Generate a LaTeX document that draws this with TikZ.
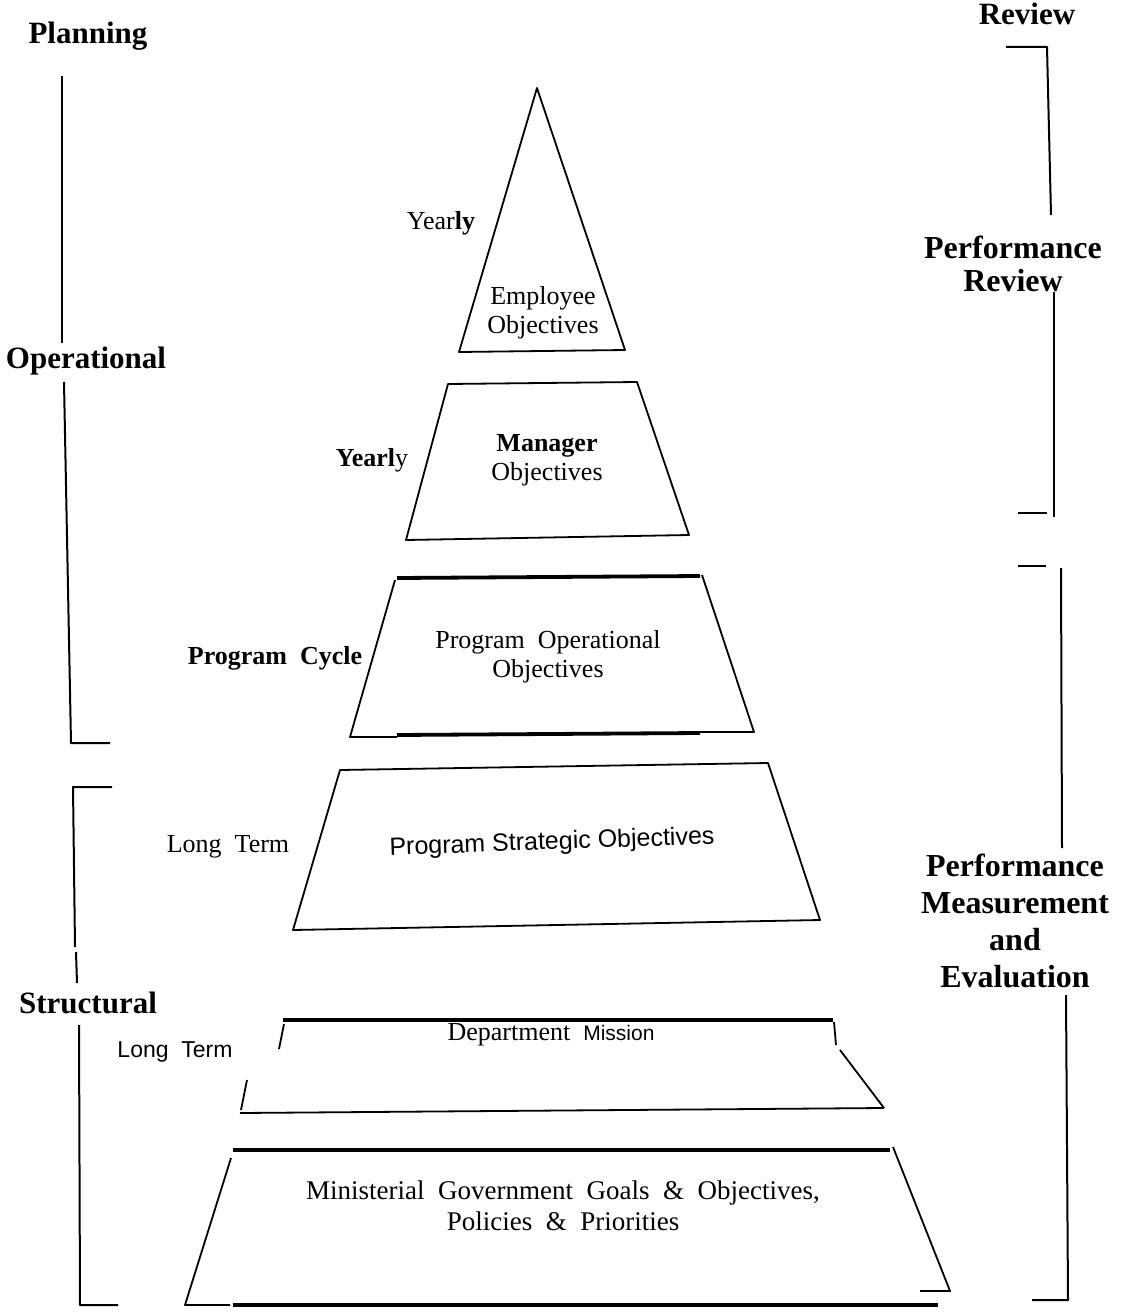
\documentclass[tikz,border=0pt]{standalone}
\usepackage{fontspec}
\setmainfont{Liberation Serif}
\setsansfont{Liberation Sans}
\usetikzlibrary{positioning}

\tikzset{
	head/.style={font=\fontsize{31}{33}\selectfont\bfseries, align=center, inner sep=0pt},
	inner/.style={font=\fontsize{26}{29}\selectfont, align=center, inner sep=0pt},
	side/.style={font=\fontsize{26}{28}\selectfont, inner sep=0pt},
	edge/.style={line width=1.8pt},
	heavy/.style={line width=3.8pt},
	rule/.style={line width=2pt}
}

\begin{document}
\begin{tikzpicture}[x=1pt, y=-1pt, line join=round]
	\useasboundingbox (0,0) rectangle (1123,1314);

	% headings
	\node[head] (planning) at (88,36) {Planning};
	\node[head] (review) at (1027,14) {Review};
	\node[head] (operational) at (86,361) {Operational};
	\node[head] (structural) at (88,1003) {Structural};
	\node[head, font=\fontsize{32}{33}\selectfont\bfseries] (perfreview) at (1013,264) {Performance\\Review};
	\node[head, font=\fontsize{32}{37}\selectfont\bfseries] (perfmeas) at (1015,921) {Performance\\Measurement\\and\\Evaluation};

	% left brackets
	\draw[rule] (62,76) -- (62,343);
	\draw[rule] (64,382) -- (71,743) -- (110,743);
	\draw[rule] (112,787) -- (73,787) -- (75,947);
	\draw[rule] (76,952) -- (77,983);
	\draw[rule] (79,1025) -- (80,1305) -- (118,1305);

	% right brackets
	\draw[rule] (1006,47) -- (1047,47) -- (1051,215);
	\draw[rule] (1054,292) -- (1054,517);
	\draw[rule] (1018,513) -- (1047,513);
	\draw[rule] (1018,566) -- (1046,566);
	\draw[rule] (1061,568) -- (1062,848);
	\draw[rule] (1066,995) -- (1068,1300) -- (1032,1300);

	% pyramid
	\draw[edge] (537,88) -- (625,350) -- (459,352) -- cycle;
	\draw[edge] (448,384) -- (637,382) -- (689,535) -- (406,540) -- cycle;
	\draw[heavy] (397,578) -- (700,576);
	\draw[edge] (395,580) -- (350,737) -- (397,737);
	\draw[heavy] (397,735) -- (700,733);
	\draw[edge] (700,732) -- (754,732) -- (702,575);
	\draw[edge] (340,770) -- (768,763) -- (820,920) -- (293,930) -- cycle;
	\draw[heavy] (283,1020) -- (833,1020);
	\draw[edge] (284,1024) -- (279,1049);
	\draw[edge] (247,1080) -- (241,1110);
	\draw[edge] (834,1022) -- (836,1045);
	\draw[edge] (840,1050) -- (884,1108);
	\draw[edge] (240,1113) -- (884,1108);
	\draw[heavy] (233,1150) -- (890,1150);
	\draw[edge] (231,1158) -- (185,1305) -- (230,1305);
	\draw[heavy] (233,1305) -- (938,1305);
	\draw[edge] (893,1147) -- (950,1291) -- (920,1291);

	% level texts
	\node[inner] (employee) at (543,313) {Employee\\Objectives};
	\node[inner] (manager) at (547,460) {\textbf{Manager}\\Objectives};
	\node[inner] (progop) at (548,657) {Program\ \ Operational\\Objectives};
	\node[inner, font=\fontsize{25}{28}\sffamily, rotate=2] (progstrat) at (552,843) {Program Strategic Objectives};
	\node[inner] (mission) at (551,1035) {\fontsize{26}{28}\selectfont Department\ \ \sffamily\fontsize{21}{24}\selectfont Mission};
	\node[inner, font=\fontsize{27}{31}\selectfont] (goals) at (563,1206) {Ministerial\ \ Government\ \ Goals\ \ \&\ \ Objectives,\\Policies \ \&\ \ Priorities};

	% time labels
	\node[side] (yearlyA) at (441,223) {Year\textbf{ly}};
	\node[side] (yearlyB) at (372,460) {\textbf{Yearl}y};
	\node[side] (cycle) at (275,658) {\textbf{Program\ \ Cycle}};
	\node[side] (longA) at (228,847) {Long\ \ Term};
	\node[side, font=\fontsize{23}{26}\sffamily] (longB) at (175,1052) {Long\ \ Term};
\end{tikzpicture}
\end{document}
